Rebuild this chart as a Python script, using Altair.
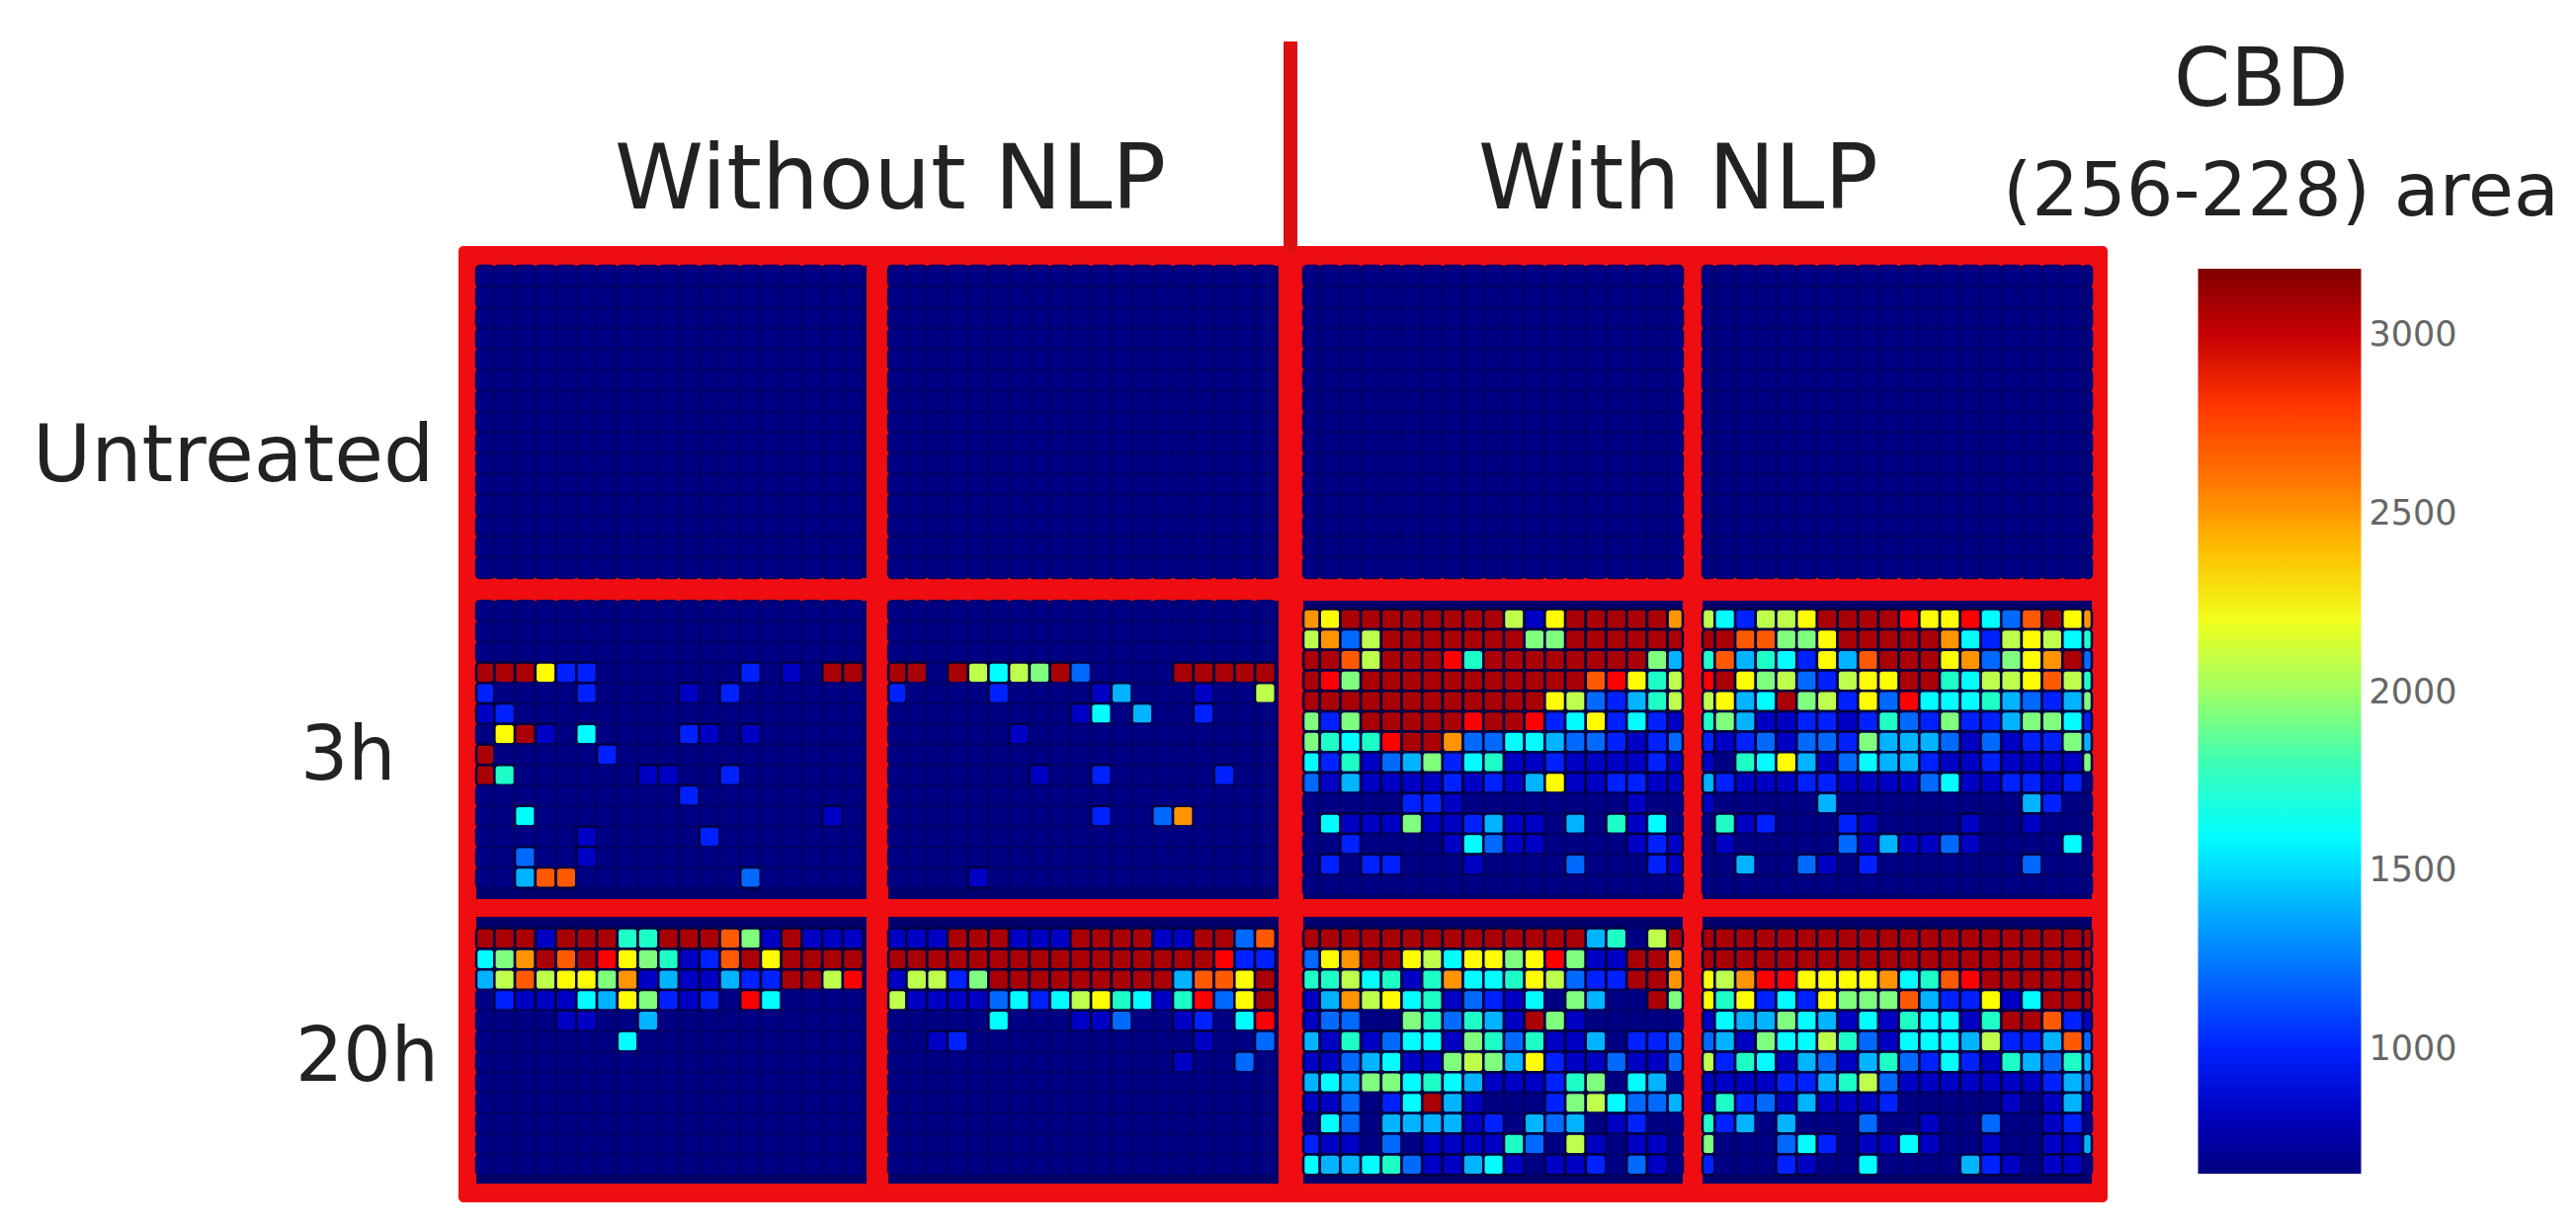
import altair as alt
import pandas as pd

# ---- values: one letter per cell, see LEVELS ----
LEVELS = {".": 665, ",": 830, "b": 1000, "B": 1200, "a": 1400, "c": 1600, "t": 1760,
          "g": 1920, "l": 2080, "y": 2240, "o": 2500, "e": 2700, "r": 2870, "d": 3080}

EMPTY = []
W1_3H = ["", "", "",
 "dddybb.......b.,.dd",
 "b....b....,.b......",
 ",b.................",
 ".yd,.c....b,.,.....",
 "d.....b............",
 "dt......,,..b......",
 "..........b........",
 "..c..............,.",
 ".....,.....b.......",
 "..B..,.............",
 "..aee........B.....",
]
W2_3H = ["", "", "",
 "dd.dlclgdB....ddddd",
 "b....b....,a...,..l",
 ".........,c.a..b...",
 "......,............",
 "",
 ".......,..b.....b..",
 "",
 "..........b..Bo....",
 "", "",
 "....,..............",
]
N1_3H = [
 "oyddddddddl,ydddddo",
 "loBldddddddggdddddd",
 "ddeldddrtddddddddga",
 "drgddddddddddderytl",
 "ddddddddddddylBbatl",
 "gbgdddddrddrbcybcb,",
 "gtctrddoBBccaBBb,bB",
 "cbt,Bagbct,,b,,,,b,",
 "B,a,,,,b,b,ay,,bb,,",
 ".....bb,........,..",
 ".c,,,g,,ba,,.a.t,c.",
 "..b....,cB,,....,b,",
 ".b.bb...,....B...b,",
 "",
]
N2_3H = [
 "lcbllyddddryyrcBedyo",
 "ddeeggydddddocblylct",
 "teatcbyaedddyoBgyodB",
 "rdyglBblyyddtcllyelt",
 "lyacdglbyBrccctaBbag",
 "tga,,bb,btBbgbbaggcb",
 "b,bB,BBbgaaaB,B,bbga",
 ",.tcya,Bcaab,,b,,,,g",
 "ab,,,bb,,,,Bc,,bb,b.",
 ",.....a.........ab..",
 ".t,b...b,....,..,...",
 ".,.....B,a,,B,....c.",
 "..a..B,.b.......B...",
 "",
]
W1_20H = [
 "ddd,dddttdddeg,d,,,",
 "cgodedrygt,bedydddd",
 "alelyygo,a,,abbddlr",
 ".b,,,caygb,b.rc....",
 "....,,..a..........",
 ".......c...........",
]
W2_20H = [
 ",,,ddd,,,dddd,,ddBe",
 "ddddddddddddddddrbb",
 ",llbgdddddddddaeeyd",
 "l,,,,Bcbclytc,trByd",
 ".....c...,,B..,b.cr",
 "..,b...........,..B",
 "..............,..B.",
]
N1_20H = [
 "ddddddddddddddat.ld",
 "Byoddylcyygyrg,,ddo",
 "ttlct,tocctylBbbddo",
 ",aolyct,Bb,c.ga..dg",
 ",BB..gtBta,dg,.....",
 "a,t,Bcc,gtBt,,a.bbB",
 ",,Bac,,glgayb,,B,,B",
 "acaggctca,,,btg.ca.",
 ",,B.bcda,...bglcBBa",
 ".cB.aaaa,b.aBa.,b..",
 "b,,.B.,,,,tB.l,.,,.",
 "caactB,,ac,.,,b.B,.",
]
N2_20H = [
 "dddddddddddddddddddd",
 "dddddddddddddddddddd",
 "ylorryyyyocterdddddd",
 "ytybcbygggeabby,cddd",
 ",caagca,c,tcc,tddeb,",
 "Ba,gccltB,cccalbbaeB",
 "lbtc,aB,atBbcb,taBta",
 ",,,,bbatlB,,,,,,,baB",
 ",tbB,a,,,b.....,.,a,",
 "tba.a...B..,..B..,b.",
 "g...Bcb.,,c,..,..,,a",
 "b...b,..c....ab,.,,.",
]

PANELS = [  # (row, column, rows of letters)
    (0, 0, EMPTY), (0, 1, EMPTY), (0, 2, EMPTY), (0, 3, EMPTY),
    (1, 0, W1_3H), (1, 1, W2_3H), (1, 2, N1_3H), (1, 3, N2_3H),
    (2, 0, W1_20H), (2, 1, W2_20H), (2, 2, N1_20H), (2, 3, N2_20H),
]
TICKS = [1000, 1500, 2000, 2500, 3000]
JET = ["#00007f", "#0000ff", "#007fff", "#00ffff", "#7fff7f", "#ffff00", "#ff7f00", "#ff0000", "#7f0000"]

# ---- layout (page pixels, the 8px page margin is removed below) ----
W, H = 2591, 1230
M = 8
COL_BOUNDS = [(482, 877), (899, 1294), (1319, 1703), (1723, 2117)]
ROW_BOUNDS = [(269, 585), (608, 910), (928, 1198)]
COL_START = [479.6, 896.7, 1315, 1714.7]
COL_STEP = [20.74, 20.74, 20.7, 20.7]
COL_COUNT = [19, 19, 19, 20]
ROW_GRID = {  # row -> first row edge, step, rows (by column)
    0: lambda c: (269, 21.07, 15),
    1: lambda c: (608.3, 20.75, 14) if c < 2 else (616.4, 20.7, 14),
    2: lambda c: (939.6, 20.8, 12),
}

cells, wells = [], []
for r, c, rows in PANELS:
    xa, xb = COL_BOUNDS[c]
    ya, yb = ROW_BOUNDS[r]
    wells.append({"x": xa - M, "x2": xb - M, "y": ya - M, "y2": yb - M})
    y0, ystep, nrows = ROW_GRID[r](c)
    for i in range(nrows):
        row = rows[i] if i < len(rows) else ""
        row = row.ljust(COL_COUNT[c], ".")[: COL_COUNT[c]]
        for j, ch in enumerate(row):
            left = COL_START[c] + j * COL_STEP[c]
            top = y0 + i * ystep
            cells.append({
                "x": max(left, xa) - M, "x2": min(left + COL_STEP[c], xb) - M,
                "y": max(top, ya) - M, "y2": min(top + ystep, yb) - M,
                "value": LEVELS[ch],
            })

labels = pd.DataFrame([
    {"t": "Without NLP", "x": 622, "y": 211, "s": 91},
    {"t": "With NLP", "x": 1496, "y": 211, "s": 90},
    {"t": "Untreated", "x": 33, "y": 487, "s": 81},
    {"t": "3h", "x": 304, "y": 789, "s": 76},
    {"t": "20h", "x": 299, "y": 1094, "s": 76},
    {"t": "CBD", "x": 2200, "y": 107, "s": 82},
    {"t": "(256-228) area", "x": 2027, "y": 218, "s": 75},
])
labels["x"] -= M
labels["y"] -= M

X = alt.Scale(domain=[0, W], range=[0, W], nice=False, zero=False)
Y = alt.Scale(domain=[0, H], range=[0, H], nice=False, zero=False)
xq = alt.X("x:Q", scale=X, axis=None)
yq = alt.Y("y:Q", scale=Y, axis=None)

frame = alt.Chart(pd.DataFrame([{"x": 464 - M, "x2": 2133 - M, "y": 249 - M, "y2": 1217 - M}])).mark_rect(
    color="#ee0d10", cornerRadius=5
).encode(x=xq, x2="x2:Q", y=yq, y2="y2:Q")

well = alt.Chart(pd.DataFrame(wells)).mark_rect(color="#00006c").encode(x=xq, x2="x2:Q", y=yq, y2="y2:Q")

heat = alt.Chart(pd.DataFrame(cells)).mark_rect(strokeWidth=2.5, cornerRadius=4).encode(
    x=xq, x2="x2:Q", y=yq, y2="y2:Q",
    stroke=alt.condition("datum.value < 700", alt.value("#00006c"), alt.value("#000040")),
    color=alt.Color("value:Q",
        scale=alt.Scale(domain=[652, 3185], range=JET, nice=False, zero=False),
        legend=alt.Legend(orient="none", legendX=2224.5 - M, legendY=272 - M, direction="vertical",
                          title=None, gradientLength=916, gradientThickness=165, gradientStrokeWidth=0,
                          values=TICKS, format="d", labelFontSize=35, labelColor="#666666", labelFont="DejaVu Sans",
                          labelOffset=8, padding=0, labelOverlap=False)),
)

divider = alt.Chart(pd.DataFrame([{"x": 1306 - M, "y": 42 - M, "y2": 255 - M}])).mark_rule(
    color="#dd1010", strokeWidth=14
).encode(x=xq, y=yq, y2="y2:Q")

text = alt.Chart(labels).mark_text(align="left", baseline="alphabetic", font="DejaVu Sans", color="#222222").encode(
    x=xq, y=yq, text="t:N", size=alt.Size("s:Q", scale=None, legend=None)
)

chart = alt.layer(frame, well, heat, divider, text).resolve_scale(color="independent").properties(
    width=W, height=H, padding=0, autosize=alt.AutoSizeParams(type="none"), background="white"
).configure_view(stroke=None)

chart.save("out.html", embed_options={"renderer": "svg", "actions": False})
